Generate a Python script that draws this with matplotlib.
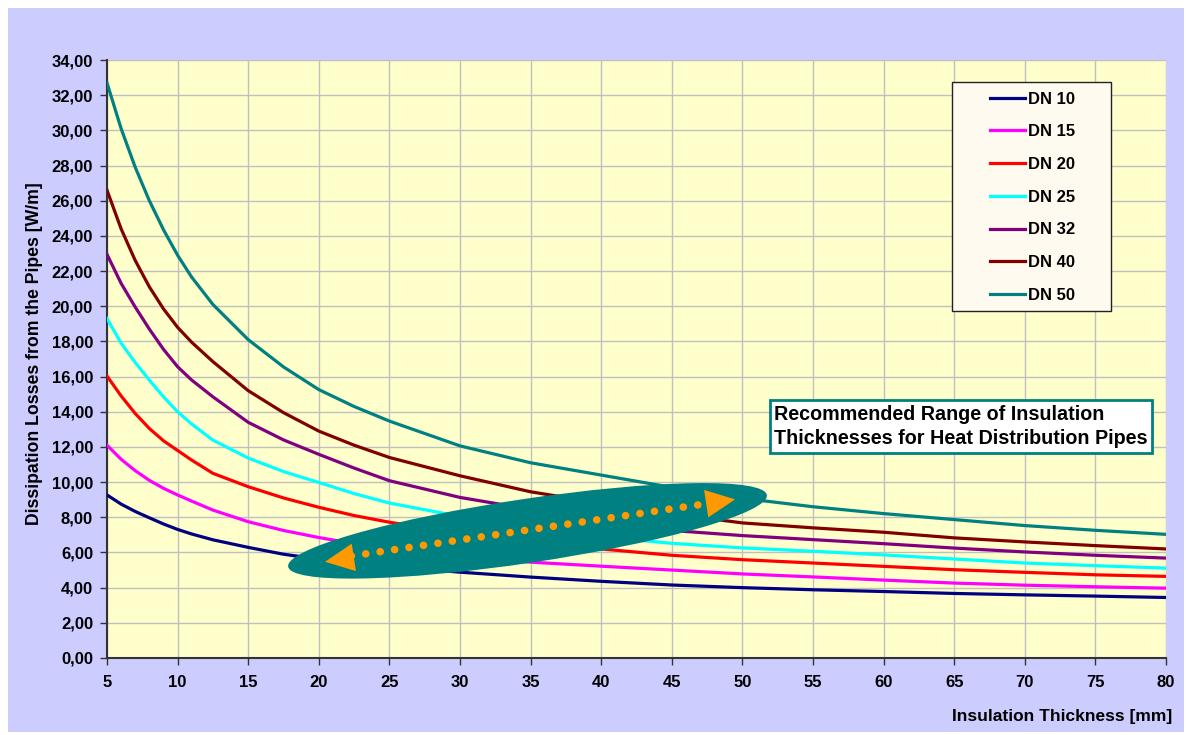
import matplotlib
matplotlib.use("Agg")
import matplotlib.pyplot as plt
import matplotlib.transforms as mtransforms
from matplotlib.patches import Ellipse, Rectangle
from matplotlib.ticker import FuncFormatter, MultipleLocator

plt.rcParams["font.family"] = ["Liberation Sans", "DejaVu Sans"]
plt.rcParams["font.weight"] = "bold"

# insulation thickness [mm]
thickness = [5, 6, 7, 8, 9, 10, 11, 12.5, 15, 17.5, 20, 22.5, 25, 30, 35, 40, 45, 50, 55, 60, 65, 70, 75, 80]

# dissipation losses [W/m] per pipe size
dn10 = [9.27, 8.75, 8.33, 7.97, 7.62, 7.31, 7.05, 6.72, 6.29, 5.90, 5.62, 5.40, 5.20,
        4.88, 4.60, 4.36, 4.15, 4.00, 3.88, 3.78, 3.67, 3.59, 3.52, 3.44]
dn15 = [12.10, 11.30, 10.65, 10.10, 9.65, 9.27, 8.92, 8.41, 7.75, 7.25, 6.85, 6.50, 6.20,
        5.75, 5.45, 5.22, 5.00, 4.78, 4.61, 4.43, 4.26, 4.14, 4.05, 3.97]
dn20 = [16.03, 14.90, 13.90, 13.05, 12.35, 11.80, 11.25, 10.50, 9.74, 9.10, 8.57, 8.10, 7.72,
        7.10, 6.62, 6.20, 5.84, 5.59, 5.40, 5.21, 5.02, 4.87, 4.73, 4.64]
dn25 = [19.30, 17.90, 16.80, 15.80, 14.85, 14.00, 13.30, 12.39, 11.37, 10.60, 9.98, 9.35, 8.81,
        8.05, 7.45, 6.90, 6.52, 6.26, 6.07, 5.86, 5.63, 5.40, 5.25, 5.11]
dn32 = [22.95, 21.30, 19.95, 18.70, 17.55, 16.56, 15.80, 14.85, 13.40, 12.40, 11.58, 10.80, 10.08,
        9.13, 8.45, 7.80, 7.25, 6.96, 6.73, 6.50, 6.25, 6.03, 5.84, 5.68]
dn40 = [26.60, 24.40, 22.60, 21.10, 19.85, 18.80, 17.95, 16.85, 15.20, 13.95, 12.90, 12.10, 11.40,
        10.36, 9.45, 8.80, 8.20, 7.68, 7.40, 7.15, 6.83, 6.60, 6.39, 6.20]
dn50 = [32.70, 30.10, 27.90, 26.00, 24.35, 22.90, 21.65, 20.10, 18.10, 16.55, 15.26, 14.30, 13.47,
        12.06, 11.10, 10.40, 9.70, 9.08, 8.60, 8.21, 7.87, 7.53, 7.26, 7.03]

series = [dn10, dn15, dn20, dn25, dn32, dn40, dn50]
labels = ["DN 10", "DN 15", "DN 20", "DN 25", "DN 32", "DN 40", "DN 50"]
colors = ["#000080", "#FF00FF", "#FF0000", "#00FFFF", "#800080", "#800000", "#008080"]

fig = plt.figure(figsize=(11.89, 7.35), dpi=100)
fig.patch.set_facecolor("white")
fig.patches.append(Rectangle((8 / 1189, 1 - 732 / 735), 1176 / 1189, 724 / 735,
                             transform=fig.transFigure, fc="#CCCCFF", ec="none", zorder=-10))

ax = fig.add_axes([107 / 1189, 1 - 658 / 735, 1059 / 1189, 598 / 735])
ax.set_zorder(1)
ax.set_facecolor("#FFFFCC")

for vals, lab, col in zip(series, labels, colors):
    ax.plot(thickness, vals, color=col, lw=2.3, label=lab, zorder=3,
            solid_joinstyle="round")

ax.set_xlim(5, 80)
ax.set_ylim(0, 34)
ax.xaxis.set_major_locator(MultipleLocator(5))
ax.yaxis.set_major_locator(MultipleLocator(2))
ax.yaxis.set_major_formatter(FuncFormatter(lambda v, p: f"{v:.2f}".replace(".", ",")))
ax.grid(True, color="#C0C0C0", lw=1)
ax.set_axisbelow(True)
for s in ["top", "right"]:
    ax.spines[s].set_visible(False)
for s in ["left", "bottom"]:
    ax.spines[s].set_color("#333333")
    ax.spines[s].set_linewidth(1.5)
ax.tick_params(axis="both", length=5, width=1, color="#333333", labelsize=12)
ax.tick_params(axis="x", pad=7)
ax.tick_params(axis="y", pad=5)

fig.text(1172 / 1189, 1 - 717 / 735, "Insulation Thickness [mm]", ha="right", va="center",
         fontsize=12.5, fontweight="bold")
fig.text(35 / 1189, 1 - 354 / 735, "Dissipation Losses from the Pipes [W/m]", rotation=90,
         ha="center", va="center", fontsize=12.7, fontweight="bold")

# legend box
ax.add_patch(Rectangle((0.798, 0.580), 0.150, 0.383, transform=ax.transAxes,
                       fc="#FFFAF0", ec="#222222", lw=1, zorder=5))
leg = ax.legend(loc="upper left", bbox_to_anchor=(990 / 1189, 1 - 91.5 / 735),
                bbox_transform=fig.transFigure, frameon=False, fontsize=12,
                handlelength=2.1, handletextpad=0.18, labelspacing=1.065,
                borderpad=0, borderaxespad=0)
leg.set_zorder(6)
for ln in leg.get_lines():
    ln.set_linewidth(2.3)

# recommended range label
ax.text(52.24, 14.4, "Recommended Range of Insulation\nThicknesses for Heat Distribution Pipes",
        fontsize=14.2, fontweight="bold", ha="left", va="top", linespacing=1.38, zorder=6,
        bbox=dict(boxstyle="square,pad=0.22", fc="white", ec="#008080", lw=2))

# ellipse with dotted double arrow
trans = fig.dpi_scale_trans + mtransforms.ScaledTranslation(34.78, 7.23, ax.transData)
ax.add_patch(Ellipse((0, 0), 4.84, 0.64, angle=8.5, transform=trans,
                     fc="#008080", ec="none", zorder=7))
ax.plot([22.3, 47.0], [5.80, 8.72], color="#FF9900", lw=5.5, ls=(0, (0.01, 1.9)),
        dash_capstyle="round", zorder=8)
arrow_kw = dict(arrowstyle="-|>,head_length=2.1,head_width=1.0", color="#FF9900",
                lw=0, shrinkA=0, shrinkB=0, mutation_scale=10)
ax.annotate("", xy=(20.44, 5.47), xytext=(24.0, 5.91), arrowprops=arrow_kw, zorder=8)
ax.annotate("", xy=(49.48, 9.02), xytext=(46.0, 8.60), arrowprops=arrow_kw, zorder=8)

fig.savefig("out.png", dpi=100)
